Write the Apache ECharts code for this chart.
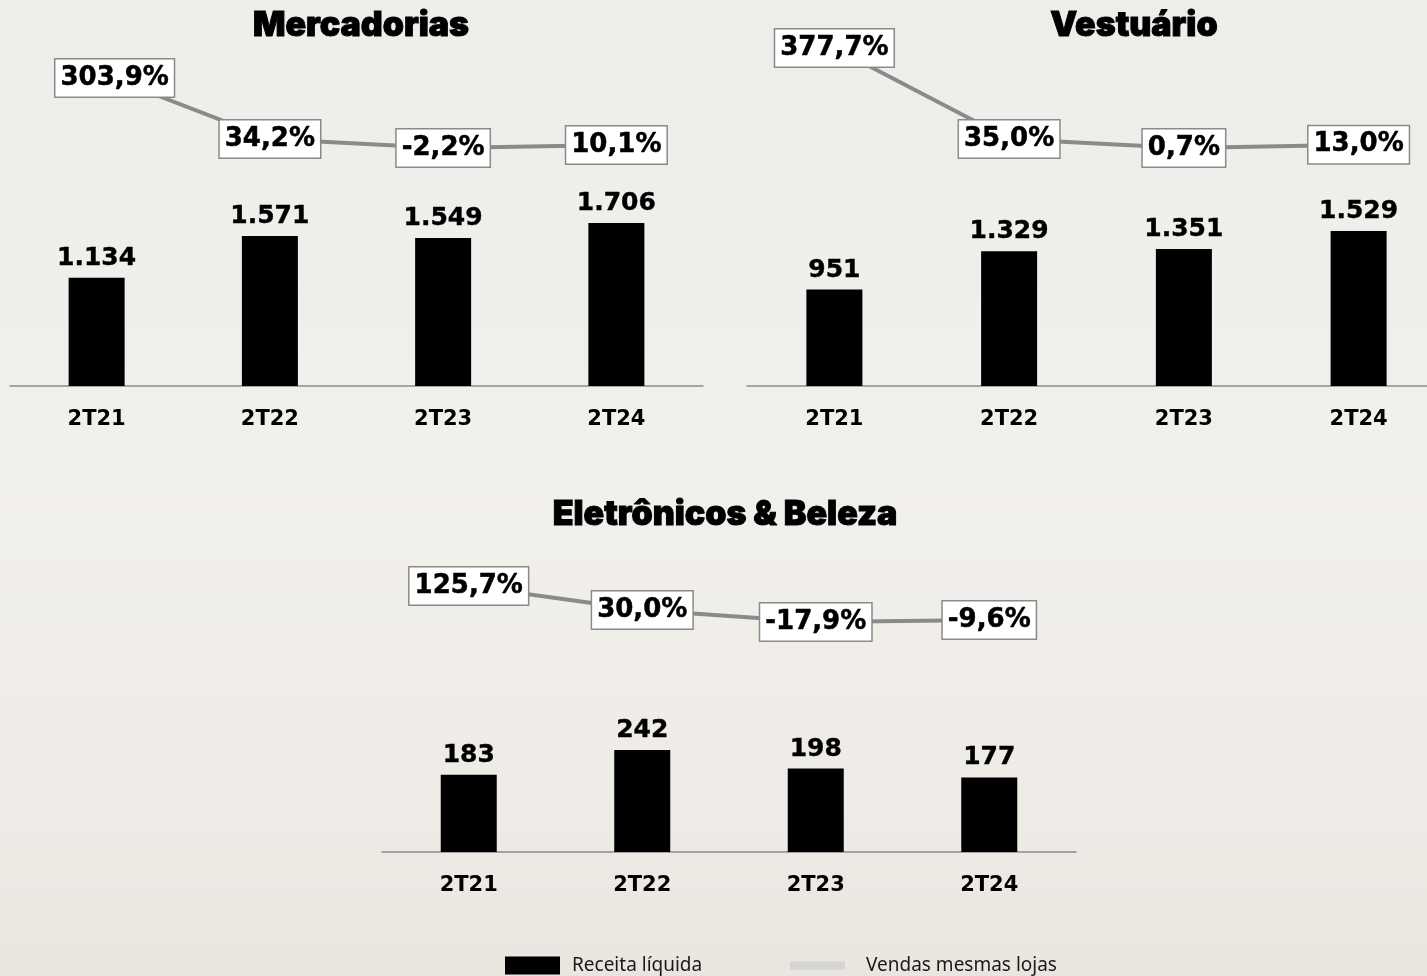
<!DOCTYPE html>
<html>
<head>
<meta charset="utf-8">
<script src="https://cdn.jsdelivr.net/npm/echarts@6/dist/echarts.min.js"></script>
<style>
html, body { margin: 0; padding: 0; }
#chart { width: 1427px; height: 976px; }
</style>
</head>
<body>
<div id="chart"></div>
<script>
var categories = ['2T21', '2T22', '2T23', '2T24'];
var mercReceita = [1134, 1571, 1549, 1706];
var mercSSS = [303.9, 34.2, -2.2, 10.1];
var vestReceita = [951, 1329, 1351, 1529];
var vestSSS = [377.7, 35.0, 0.7, 13.0];
var eletReceita = [183, 242, 198, 177];
var eletSSS = [125.7, 30.0, -17.9, -9.6];

var myChart = echarts.init(document.getElementById('chart'));

function fmtNum(v) {
	return String(v).replace(/\B(?=(\d{3})+(?!\d))/g, '.');
}
function fmtPct(v) {
	return v.toFixed(1).replace('.', ',') + '%';
}

var txt = "'DejaVu Sans', Verdana, sans-serif";

// grids: 0-2 bars, 3-5 lines
var grids = [
	{ left: 10, width: 693, top: 223, height: 163 },
	{ left: 747, width: 699, top: 231, height: 155 },
	{ left: 382, width: 694, top: 750, height: 102 },
	{ left: 10, width: 693, top: 72, height: 76 },
	{ left: 747, width: 699, top: 48, height: 100 },
	{ left: 382, width: 694, top: 586, height: 36 }
];
grids.forEach(function (g) { g.outerBoundsMode = 'none'; g.containLabel = false; });

var xAxes = [], yAxes = [];
grids.forEach(function (g, i) {
	var isBar = i < 3;
	xAxes.push({
		type: 'category',
		gridIndex: i,
		data: categories,
		show: isBar,
		axisLine: { show: true, lineStyle: { color: '#8c8c8c', width: 1.5 } },
		axisTick: { show: false },
		axisLabel: {
			margin: 23,
			color: '#000',
			fontFamily: txt,
			fontWeight: 'bold',
			fontSize: 21
		}
	});
	yAxes.push({
		type: 'value',
		gridIndex: i,
		show: false,
		min: isBar ? 0 : 'dataMin',
		max: 'dataMax',
		splitLine: { show: false }
	});
});

function barSeries(data, idx) {
	return {
		name: 'Receita líquida',
		type: 'bar',
		xAxisIndex: idx,
		yAxisIndex: idx,
		barWidth: 56,
		itemStyle: { color: '#000' },
		label: {
			show: true,
			position: 'top',
			distance: 7,
			color: '#000',
			fontFamily: txt,
			fontWeight: 'bold',
			fontSize: 25,
			textBorderColor: '#000',
			textBorderWidth: 0.4,
			formatter: function (p) { return fmtNum(p.value); }
		},
		data: data
	};
}

function lineSeries(data, idx, firstOffset) {
	var pts = data.map(function (v, i) {
		if (i === 0 && firstOffset) {
			return { value: v, label: { offset: firstOffset } };
		}
		return v;
	});
	return {
		name: 'Vendas mesmas lojas',
		type: 'line',
		xAxisIndex: idx,
		yAxisIndex: idx,
		symbol: 'circle',
		symbolSize: 1,
		itemStyle: { color: '#8a8a8a' },
		lineStyle: { color: '#8a8a8a', width: 4 },
		label: {
			show: true,
			position: 'inside',
			color: '#000',
			fontFamily: txt,
			fontWeight: 'bold',
			fontSize: 26,
			lineHeight: 30,
			textBorderColor: '#000',
			textBorderWidth: 0.5,
			backgroundColor: '#fff',
			borderColor: '#8a8a8a',
			borderWidth: 1.5,
			padding: [4, 5, 3, 5],
			formatter: function (p) { return fmtPct(p.value); }
		},
		data: pts
	};
}

var titleStyle = {
	fontFamily: "Inter, Lato, sans-serif",
	fontWeight: 900,
	fontSize: 34,
	color: '#000',
	textBorderColor: '#000',
	textBorderWidth: 1
};

var option = {
	animation: false,
	backgroundColor: {
		type: 'linear', x: 0, y: 0, x2: 0, y2: 1,
		colorStops: [
			{ offset: 0, color: '#efede9' },
			{ offset: 0.5, color: '#f2f0ec' },
			{ offset: 0.85, color: '#eeebe6' },
			{ offset: 1, color: '#e9e5df' }
		]
	},
	title: [
		{ text: 'Mercadorias', left: 356, top: 4, textAlign: 'center', textStyle: titleStyle },
		{ text: 'Vestuário', left: 1129, top: 4, textAlign: 'center', textStyle: titleStyle },
		{ text: 'Eletrônicos & Beleza', left: 720, top: 493, textAlign: 'center', textStyle: titleStyle }
	],
	legend: [
		{
			left: 505,
			top: 956,
			padding: 0,
			itemWidth: 55,
			itemHeight: 18,
			icon: 'rect',
			textStyle: { color: '#1a1a1a', fontFamily: "'Noto Sans', sans-serif", fontSize: 19, padding: [0, 0, 0, 7] },
			data: ['Receita líquida']
		},
		{
			left: 790,
			top: 956,
			padding: 0,
			itemWidth: 55,
			itemHeight: 8,
			icon: 'rect',
			textStyle: { color: '#1a1a1a', fontFamily: "'Noto Sans', sans-serif", fontSize: 19, padding: [0, 0, 0, 16] },
			data: [{ name: 'Vendas mesmas lojas', itemStyle: { color: '#d4d4d4' } }]
		}
	],
	grid: grids,
	xAxis: xAxes,
	yAxis: yAxes,
	series: [
		barSeries(mercReceita, 0),
		barSeries(vestReceita, 1),
		barSeries(eletReceita, 2),
		lineSeries(mercSSS, 3, [18, 6]),
		lineSeries(vestSSS, 4, null),
		lineSeries(eletSSS, 5, null)
	]
};

myChart.setOption(option);
</script>
</body>
</html>
